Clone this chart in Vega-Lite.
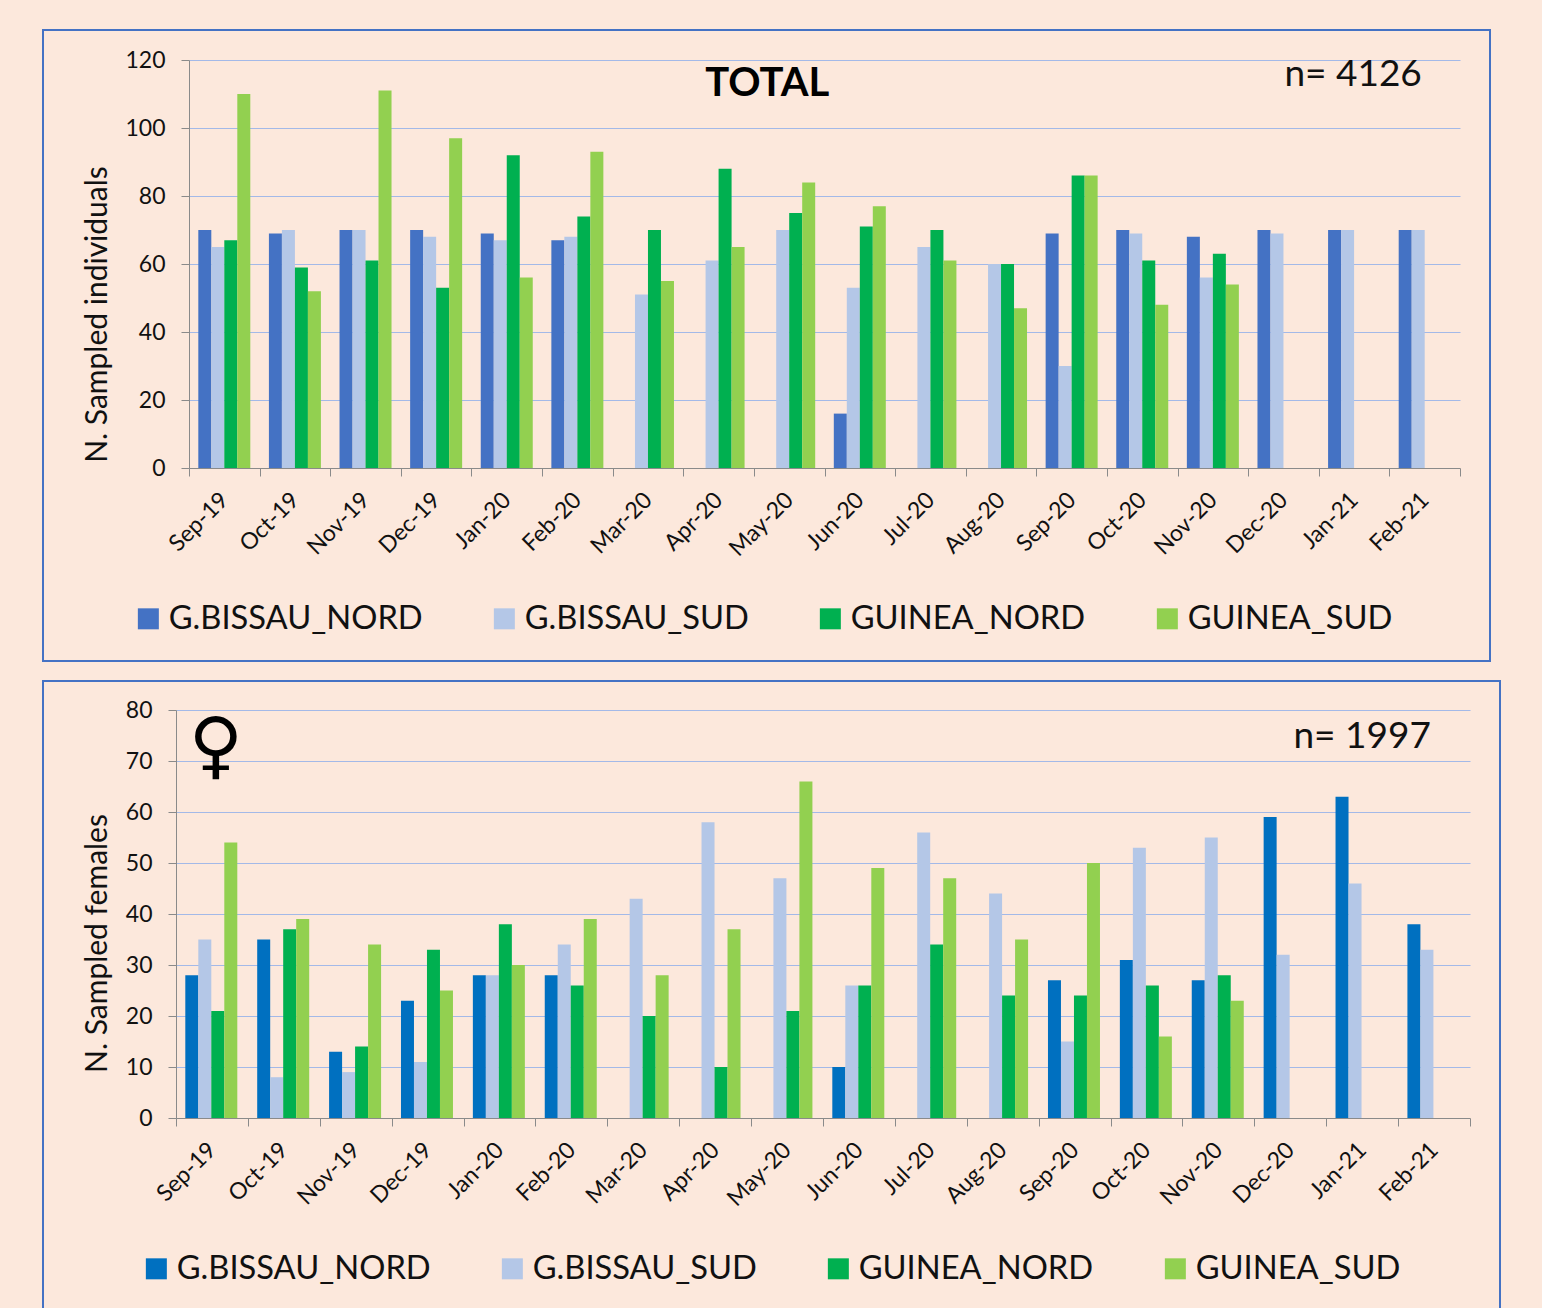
{
"$schema":"https://vega.github.io/schema/vega-lite/v6.json",
"background":"#FCE8DC",
"padding":{"left":34,"top":29,"right":51,"bottom":0},
"spacing":18,
"resolve":{"scale":{"color":"independent"}},
"config":{"font":"Lato","view":{"stroke":"#4472C4","strokeWidth":2,"fill":null}},
"datasets":{
"top":[
{"m":"Sep-19","s":"G.BISSAU_NORD","v":70},{"m":"Sep-19","s":"G.BISSAU_SUD","v":65},{"m":"Sep-19","s":"GUINEA_NORD","v":67},{"m":"Sep-19","s":"GUINEA_SUD","v":110},
{"m":"Oct-19","s":"G.BISSAU_NORD","v":69},{"m":"Oct-19","s":"G.BISSAU_SUD","v":70},{"m":"Oct-19","s":"GUINEA_NORD","v":59},{"m":"Oct-19","s":"GUINEA_SUD","v":52},
{"m":"Nov-19","s":"G.BISSAU_NORD","v":70},{"m":"Nov-19","s":"G.BISSAU_SUD","v":70},{"m":"Nov-19","s":"GUINEA_NORD","v":61},{"m":"Nov-19","s":"GUINEA_SUD","v":111},
{"m":"Dec-19","s":"G.BISSAU_NORD","v":70},{"m":"Dec-19","s":"G.BISSAU_SUD","v":68},{"m":"Dec-19","s":"GUINEA_NORD","v":53},{"m":"Dec-19","s":"GUINEA_SUD","v":97},
{"m":"Jan-20","s":"G.BISSAU_NORD","v":69},{"m":"Jan-20","s":"G.BISSAU_SUD","v":67},{"m":"Jan-20","s":"GUINEA_NORD","v":92},{"m":"Jan-20","s":"GUINEA_SUD","v":56},
{"m":"Feb-20","s":"G.BISSAU_NORD","v":67},{"m":"Feb-20","s":"G.BISSAU_SUD","v":68},{"m":"Feb-20","s":"GUINEA_NORD","v":74},{"m":"Feb-20","s":"GUINEA_SUD","v":93},
{"m":"Mar-20","s":"G.BISSAU_SUD","v":51},{"m":"Mar-20","s":"GUINEA_NORD","v":70},{"m":"Mar-20","s":"GUINEA_SUD","v":55},
{"m":"Apr-20","s":"G.BISSAU_SUD","v":61},{"m":"Apr-20","s":"GUINEA_NORD","v":88},{"m":"Apr-20","s":"GUINEA_SUD","v":65},
{"m":"May-20","s":"G.BISSAU_SUD","v":70},{"m":"May-20","s":"GUINEA_NORD","v":75},{"m":"May-20","s":"GUINEA_SUD","v":84},
{"m":"Jun-20","s":"G.BISSAU_NORD","v":16},{"m":"Jun-20","s":"G.BISSAU_SUD","v":53},{"m":"Jun-20","s":"GUINEA_NORD","v":71},{"m":"Jun-20","s":"GUINEA_SUD","v":77},
{"m":"Jul-20","s":"G.BISSAU_SUD","v":65},{"m":"Jul-20","s":"GUINEA_NORD","v":70},{"m":"Jul-20","s":"GUINEA_SUD","v":61},
{"m":"Aug-20","s":"G.BISSAU_SUD","v":60},{"m":"Aug-20","s":"GUINEA_NORD","v":60},{"m":"Aug-20","s":"GUINEA_SUD","v":47},
{"m":"Sep-20","s":"G.BISSAU_NORD","v":69},{"m":"Sep-20","s":"G.BISSAU_SUD","v":30},{"m":"Sep-20","s":"GUINEA_NORD","v":86},{"m":"Sep-20","s":"GUINEA_SUD","v":86},
{"m":"Oct-20","s":"G.BISSAU_NORD","v":70},{"m":"Oct-20","s":"G.BISSAU_SUD","v":69},{"m":"Oct-20","s":"GUINEA_NORD","v":61},{"m":"Oct-20","s":"GUINEA_SUD","v":48},
{"m":"Nov-20","s":"G.BISSAU_NORD","v":68},{"m":"Nov-20","s":"G.BISSAU_SUD","v":56},{"m":"Nov-20","s":"GUINEA_NORD","v":63},{"m":"Nov-20","s":"GUINEA_SUD","v":54},
{"m":"Dec-20","s":"G.BISSAU_NORD","v":70},{"m":"Dec-20","s":"G.BISSAU_SUD","v":69},
{"m":"Jan-21","s":"G.BISSAU_NORD","v":70},{"m":"Jan-21","s":"G.BISSAU_SUD","v":70},
{"m":"Feb-21","s":"G.BISSAU_NORD","v":70},{"m":"Feb-21","s":"G.BISSAU_SUD","v":70}
],
"bottom":[
{"m":"Sep-19","s":"G.BISSAU_NORD","v":28},{"m":"Sep-19","s":"G.BISSAU_SUD","v":35},{"m":"Sep-19","s":"GUINEA_NORD","v":21},{"m":"Sep-19","s":"GUINEA_SUD","v":54},
{"m":"Oct-19","s":"G.BISSAU_NORD","v":35},{"m":"Oct-19","s":"G.BISSAU_SUD","v":8},{"m":"Oct-19","s":"GUINEA_NORD","v":37},{"m":"Oct-19","s":"GUINEA_SUD","v":39},
{"m":"Nov-19","s":"G.BISSAU_NORD","v":13},{"m":"Nov-19","s":"G.BISSAU_SUD","v":9},{"m":"Nov-19","s":"GUINEA_NORD","v":14},{"m":"Nov-19","s":"GUINEA_SUD","v":34},
{"m":"Dec-19","s":"G.BISSAU_NORD","v":23},{"m":"Dec-19","s":"G.BISSAU_SUD","v":11},{"m":"Dec-19","s":"GUINEA_NORD","v":33},{"m":"Dec-19","s":"GUINEA_SUD","v":25},
{"m":"Jan-20","s":"G.BISSAU_NORD","v":28},{"m":"Jan-20","s":"G.BISSAU_SUD","v":28},{"m":"Jan-20","s":"GUINEA_NORD","v":38},{"m":"Jan-20","s":"GUINEA_SUD","v":30},
{"m":"Feb-20","s":"G.BISSAU_NORD","v":28},{"m":"Feb-20","s":"G.BISSAU_SUD","v":34},{"m":"Feb-20","s":"GUINEA_NORD","v":26},{"m":"Feb-20","s":"GUINEA_SUD","v":39},
{"m":"Mar-20","s":"G.BISSAU_SUD","v":43},{"m":"Mar-20","s":"GUINEA_NORD","v":20},{"m":"Mar-20","s":"GUINEA_SUD","v":28},
{"m":"Apr-20","s":"G.BISSAU_SUD","v":58},{"m":"Apr-20","s":"GUINEA_NORD","v":10},{"m":"Apr-20","s":"GUINEA_SUD","v":37},
{"m":"May-20","s":"G.BISSAU_SUD","v":47},{"m":"May-20","s":"GUINEA_NORD","v":21},{"m":"May-20","s":"GUINEA_SUD","v":66},
{"m":"Jun-20","s":"G.BISSAU_NORD","v":10},{"m":"Jun-20","s":"G.BISSAU_SUD","v":26},{"m":"Jun-20","s":"GUINEA_NORD","v":26},{"m":"Jun-20","s":"GUINEA_SUD","v":49},
{"m":"Jul-20","s":"G.BISSAU_SUD","v":56},{"m":"Jul-20","s":"GUINEA_NORD","v":34},{"m":"Jul-20","s":"GUINEA_SUD","v":47},
{"m":"Aug-20","s":"G.BISSAU_SUD","v":44},{"m":"Aug-20","s":"GUINEA_NORD","v":24},{"m":"Aug-20","s":"GUINEA_SUD","v":35},
{"m":"Sep-20","s":"G.BISSAU_NORD","v":27},{"m":"Sep-20","s":"G.BISSAU_SUD","v":15},{"m":"Sep-20","s":"GUINEA_NORD","v":24},{"m":"Sep-20","s":"GUINEA_SUD","v":50},
{"m":"Oct-20","s":"G.BISSAU_NORD","v":31},{"m":"Oct-20","s":"G.BISSAU_SUD","v":53},{"m":"Oct-20","s":"GUINEA_NORD","v":26},{"m":"Oct-20","s":"GUINEA_SUD","v":16},
{"m":"Nov-20","s":"G.BISSAU_NORD","v":27},{"m":"Nov-20","s":"G.BISSAU_SUD","v":55},{"m":"Nov-20","s":"GUINEA_NORD","v":28},{"m":"Nov-20","s":"GUINEA_SUD","v":23},
{"m":"Dec-20","s":"G.BISSAU_NORD","v":59},{"m":"Dec-20","s":"G.BISSAU_SUD","v":32},
{"m":"Jan-21","s":"G.BISSAU_NORD","v":63},{"m":"Jan-21","s":"G.BISSAU_SUD","v":46},
{"m":"Feb-21","s":"G.BISSAU_NORD","v":38},{"m":"Feb-21","s":"G.BISSAU_SUD","v":33}
]},
"vconcat":[
{"width":1447,"height":631,
"resolve":{"axis":{"y":"independent"}},
"layer":[
{"data":{"name":"top"},"mark":{"type":"rule","opacity":0},
"encoding":{"y":{"field":"v","type":"quantitative","scale":{"domain":[0,120],"range":[438,30]},
"axis":{"orient":"right","offset":-30,"values":[20,40,60,80,100,120],"tickSize":-1271,"tickColor":"#A3B9E8","tickWidth":1,"labels":false,"domain":false,"title":null,"grid":false}}}},
{"data":{"name":"top"},"mark":{"type":"bar"},
"encoding":{
"x":{"field":"m","type":"nominal","sort":null,"title":null,"scale":{"range":[146,1417],"paddingInner":0,"paddingOuter":0},
"axis":{"offset":-193,"labelAngle":-45,"labelFontSize":23,"labelColor":"#111","tickBand":"extent","tickSize":8,"tickColor":"#8A8A8A","domainColor":"#8A8A8A","labelPadding":20,"labelAlign":"right","labelBaseline":"middle"}},
"xOffset":{"field":"s","type":"nominal","sort":null,"scale":{"paddingInner":0,"paddingOuter":0.716}},
"y":{"field":"v","type":"quantitative","scale":{"domain":[0,120],"range":[438,30]},
"axis":{"orient":"left","offset":-146,"values":[0,20,40,60,80,100,120],"title":"N. Sampled individuals","titleFontSize":30,"titleFontWeight":"normal","titleColor":"#111","titleX":-77,"titleY":284,"labelFontSize":23,"labelColor":"#111","labelPadding":16,"tickSize":8,"tickColor":"#8A8A8A","domainColor":"#8A8A8A","grid":false}},
"color":{"field":"s","type":"nominal","sort":null,"scale":{"range":["#4472C4","#B4C7E7","#00B050","#92D050"]},
"legend":{"orient":"none","legendX":89,"legendY":572,"direction":"horizontal","columns":4,"columnPadding":65,"title":null,"symbolType":"square","symbolSize":441,"symbolStrokeWidth":0,"labelFontSize":32.7,"labelColor":"#111","labelOffset":4,"labelLimit":400,"symbolOpacity":1}}}},
{"data":{"values":[{"m":"May-20","v":113,"t":"TOTAL"}]},"mark":{"type":"text","fontSize":40,"fontWeight":"bold","dx":-22,"color":"#000","font":"Lato"},
"encoding":{"x":{"field":"m","type":"nominal","sort":null},"y":{"field":"v","type":"quantitative","axis":null},"text":{"field":"t"}}},
{"data":{"values":[{"m":"Jan-21","v":116,"t":"n= 4126"}]},"mark":{"type":"text","fontSize":37,"dx":-1,"dy":1,"color":"#111","font":"Lato"},
"encoding":{"x":{"field":"m","type":"nominal","sort":null},"y":{"field":"v","type":"quantitative","axis":null},"text":{"field":"t"}}}
]},
{"width":1457,"height":629,
"resolve":{"axis":{"y":"independent"}},
"layer":[
{"data":{"name":"bottom"},"mark":{"type":"rule","opacity":0},
"encoding":{"y":{"field":"v","type":"quantitative","scale":{"domain":[0,80],"range":[437,29]},
"axis":{"orient":"right","offset":-30,"values":[10,20,30,40,50,60,70,80],"tickSize":-1294,"tickColor":"#A3B9E8","tickWidth":1,"labels":false,"domain":false,"title":null,"grid":false}}}},
{"data":{"name":"bottom"},"mark":{"type":"bar"},
"encoding":{
"x":{"field":"m","type":"nominal","sort":null,"title":null,"scale":{"range":[133,1427],"paddingInner":0,"paddingOuter":0},
"axis":{"offset":-192,"labelAngle":-45,"labelFontSize":23,"labelColor":"#111","tickBand":"extent","tickSize":8,"tickColor":"#8A8A8A","domainColor":"#8A8A8A","labelPadding":20,"labelAlign":"right","labelBaseline":"middle"}},
"xOffset":{"field":"s","type":"nominal","sort":null,"scale":{"paddingInner":0,"paddingOuter":0.765}},
"y":{"field":"v","type":"quantitative","scale":{"domain":[0,80],"range":[437,29]},
"axis":{"orient":"left","offset":-133,"values":[0,10,20,30,40,50,60,70,80],"title":"N. Sampled females","titleFontSize":30,"titleFontWeight":"normal","titleColor":"#111","titleX":-64,"titleY":262,"labelFontSize":23,"labelColor":"#111","labelPadding":16,"tickSize":8,"tickColor":"#8A8A8A","domainColor":"#8A8A8A","grid":false}},
"color":{"field":"s","type":"nominal","sort":null,"scale":{"range":["#0070C0","#B4C7E7","#00B050","#92D050"]},
"legend":{"orient":"none","legendX":97,"legendY":571,"direction":"horizontal","columns":4,"columnPadding":65,"title":null,"symbolType":"square","symbolSize":441,"symbolStrokeWidth":0,"labelFontSize":32.7,"labelColor":"#111","labelOffset":4,"labelLimit":400,"symbolOpacity":1}}}},
{"data":{"values":[{"m":"Sep-19","v":72.5,"t":"♀"}]},"mark":{"type":"text","fontSize":74,"dx":4,"color":"#000","font":"DejaVu Sans"},
"encoding":{"x":{"field":"m","type":"nominal","sort":null},"y":{"field":"v","type":"quantitative","axis":null},"text":{"field":"t"}}},
{"data":{"values":[{"m":"Jan-21","v":75,"t":"n= 1997"}]},"mark":{"type":"text","fontSize":37,"dx":0,"dy":1,"color":"#111","font":"Lato"},
"encoding":{"x":{"field":"m","type":"nominal","sort":null},"y":{"field":"v","type":"quantitative","axis":null},"text":{"field":"t"}}}
]}
]}
